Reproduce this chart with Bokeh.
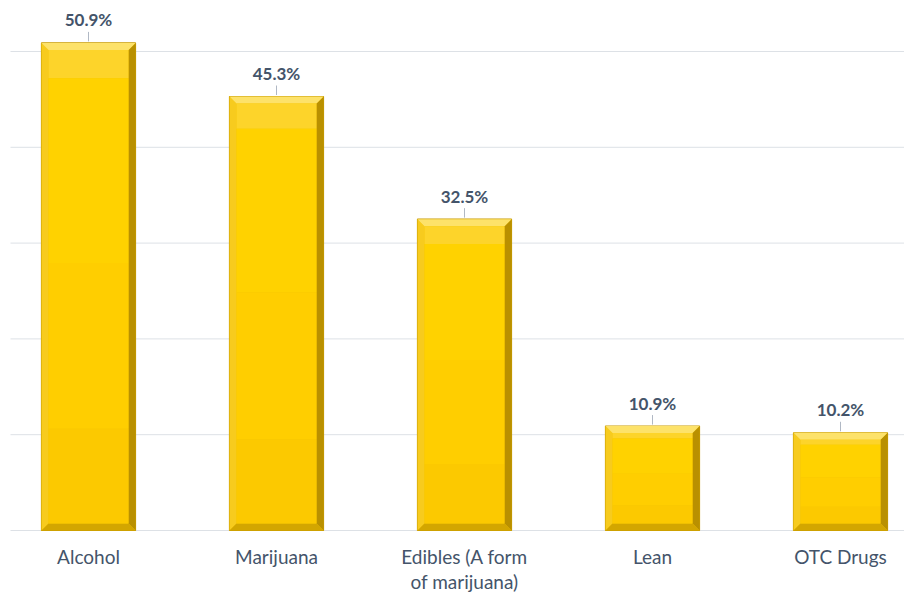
from bokeh.plotting import figure
from bokeh.models import Range1d
from bokeh.core.properties import value
from bokeh.embed import file_html
from bokeh.resources import INLINE

categories = ["Alcohol", "Marijuana", "Edibles (A form\nof marijuana)", "Lean", "OTC Drugs"]
values = [50.9, 45.3, 32.5, 10.9, 10.2]
labels = ["50.9%", "45.3%", "32.5%", "10.9%", "10.2%"]
grid_ticks = [0, 10, 20, 30, 40, 50]

W, H = 904, 595
px_per_x = 188.0
px_per_y = 9.58
x_start = -88 / px_per_x
x_end = x_start + W / px_per_x
y_start = -(H - 530) / px_per_y
y_end = y_start + H / px_per_y

p = figure(width=W, height=H, output_backend="svg", toolbar_location=None,
           x_range=Range1d(x_start, x_end), y_range=Range1d(y_start, y_end),
           min_border=0, outline_line_color=None)
p.axis.visible = False
p.grid.visible = False
p.background_fill_color = "white"
p.border_fill_color = "white"

# gridlines
gx0 = x_start + 10 / px_per_x
p.segment(x0=[gx0] * len(grid_ticks), x1=[x_end] * len(grid_ticks), y0=grid_ticks, y1=grid_ticks,
          line_color="#dde1e6", line_width=1)

xs = list(range(len(values)))
hw = 0.25
bx = 7 / px_per_x
by = 7 / px_per_y

x0 = [x - hw for x in xs]
x1 = [x + hw for x in xs]

# outer body
p.quad(left=x0, right=x1, bottom=[0] * len(xs), top=values, fill_color="#f2c200",
       line_color="#c99c00", line_width=1.2)

top_p = ([[a, b, b - bx, a + bx] for a, b in zip(x0, x1)],
         [[v, v, v - by, v - by] for v in values])
left_p = ([[a, a + bx, a + bx, a] for a in x0],
          [[v, v - by, by, 0] for v in values])
right_p = ([[b, b, b - bx, b - bx] for b in x1],
           [[v, 0, by, v - by] for v in values])
bot_p = ([[a, b, b - bx, a + bx] for a, b in zip(x0, x1)],
         [[0, 0, by, by] for v in values])

p.patches(xs=left_p[0], ys=left_p[1], fill_color="#f7cb1e", line_color=None)
p.patches(xs=right_p[0], ys=right_p[1], fill_color="#b99000", line_color=None)
p.patches(xs=bot_p[0], ys=bot_p[1], fill_color="#d3a600", line_color=None)
p.patches(xs=top_p[0], ys=top_p[1], fill_color="#fde26a", line_color=None)

# inner face with soft gradient bands
ix0 = [a + bx for a in x0]
ix1 = [b - bx for b in x1]
itop = [v - by for v in values]
ibot = [by] * len(values)
bands = [("#fdd42a", 0.0, 0.06), ("#ffd200", 0.06, 0.45), ("#ffce00", 0.45, 0.8), ("#fcc900", 0.8, 1.0)]
for col, f0, f1 in bands:
    p.quad(left=ix0, right=ix1,
           top=[t - (t - b) * f0 for t, b in zip(itop, ibot)],
           bottom=[t - (t - b) * f1 for t, b in zip(itop, ibot)],
           fill_color=col, line_color=None)

# leader lines
p.segment(x0=xs, x1=xs, y0=[v + 1.5 / px_per_y for v in values], y1=[v + 11 / px_per_y for v in values],
          line_color="#b0b8c4", line_width=1)

# value labels
p.text(x=xs, y=[v + 23 / px_per_y for v in values], text=labels,
       text_font=value("Lato"), text_font_style="bold", text_font_size="17px",
       text_color="#44546a", text_align="center", text_baseline="middle")

# category labels
p.text(x=xs, y=[-14 / px_per_y] * len(xs), text=categories,
       text_font=value("Lato"), text_font_size="19px", text_line_height=1.12,
       text_color="#44546a", text_align="center", text_baseline="top")

open("out.html", "w").write(file_html(p, INLINE))
